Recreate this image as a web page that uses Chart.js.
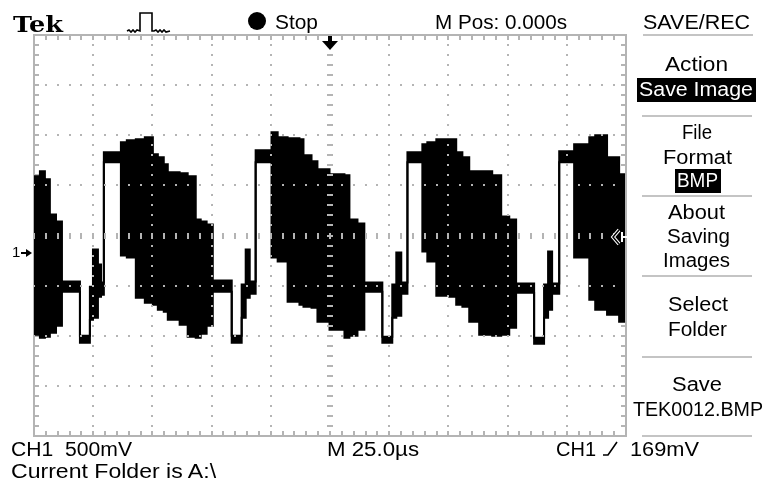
<!DOCTYPE html>
<html>
<head>
<meta charset="utf-8">
<script src="https://cdn.jsdelivr.net/npm/chart.js@4.4.1/dist/chart.umd.min.js"></script>
<style>
  html, body { margin: 0; padding: 0; background: #fff; }
  #screen { position: relative; width: 765px; height: 488px; overflow: hidden; background: #fff; }
  #screen canvas { position: absolute; left: 0; top: 0; }
  .lbl { position: absolute; font: 20px "Liberation Sans", Arial, sans-serif; line-height: 20px;
         white-space: pre; color: #000; transform-origin: 0 0; }
  .white { color: #fff; }
  .inv { position: absolute; background: #000; }
  .sep { position: absolute; height: 2px; background: #c4c4c4; }
  svg { position: absolute; overflow: visible; }
</style>
</head>
<body>
<div id="screen">
  <canvas id="scope" width="765" height="488"></canvas>

  <!-- top status row -->
  <span class="lbl" data-w="50" style="left:13px;top:12px;font:bold 23px 'DejaVu Serif',serif;line-height:23px">Tek</span>
  <svg style="left:125px;top:10px" width="48" height="26">
    <polyline points="2,21 4,20 6,22 8,20 10,22 12,20 15,21 15,3 27,3 27,21 29,21 31,20 33,22 35,20 37,22 39,20 41,22 45,21"
              fill="none" stroke="#000" stroke-width="1.6"/>
  </svg>
  <div class="inv" style="left:248px;top:12px;width:18px;height:18px;border-radius:50%"></div>
  <span class="lbl" data-w="43" style="left:275px;top:12px">Stop</span>
  <span class="lbl" data-w="132" style="left:435px;top:12px">M Pos: 0.000s</span>
  <span class="lbl" data-w="107" style="left:643px;top:12px">SAVE/REC</span>
  <div class="sep" style="left:643px;top:34px;width:110px"></div>

  <!-- trigger position / level markers -->
  <svg style="left:321px;top:36px" width="18" height="15">
    <rect x="7" y="0" width="4" height="6" fill="#000"/>
    <polygon points="1,5 17,5 9,14" fill="#000"/>
  </svg>
  <span class="lbl" style="left:12px;top:244px;font-size:15px;line-height:15px">1</span>
  <svg style="left:21px;top:248px" width="12" height="10">
    <line x1="0" y1="5" x2="6" y2="5" stroke="#000" stroke-width="2"/>
    <polygon points="5,1 11,5 5,9" fill="#000"/>
  </svg>
  <svg style="left:611px;top:229px" width="18" height="16">
    <polyline points="8,1 2,8 8,15" fill="none" stroke="#fff" stroke-width="3.5"/>
    <polyline points="8,1 2,8 8,15" fill="none" stroke="#000" stroke-width="1.5"/>
    <line x1="11" y1="3" x2="11" y2="13" stroke="#fff" stroke-width="2"/>
    <line x1="11" y1="8" x2="17" y2="8" stroke="#fff" stroke-width="2"/>
  </svg>

  <!-- side menu -->
  <span class="lbl" data-w="63" style="left:665px;top:54px">Action</span>
  <div class="inv" style="left:637px;top:78px;width:119px;height:24px"></div>
  <span class="lbl white" data-w="114" style="left:639px;top:79px">Save Image</span>
  <div class="sep" style="left:642px;top:115px;width:110px"></div>
  <span class="lbl" data-w="30" style="left:682px;top:122px">File</span>
  <span class="lbl" data-w="69" style="left:663px;top:147px">Format</span>
  <div class="inv" style="left:675px;top:169px;width:46px;height:24px"></div>
  <span class="lbl white" data-w="41" style="left:677px;top:170px">BMP</span>
  <div class="sep" style="left:642px;top:195px;width:110px"></div>
  <span class="lbl" data-w="57" style="left:668px;top:202px">About</span>
  <span class="lbl" data-w="63" style="left:667px;top:226px">Saving</span>
  <span class="lbl" data-w="67" style="left:663px;top:250px">Images</span>
  <div class="sep" style="left:642px;top:275px;width:110px"></div>
  <span class="lbl" data-w="60" style="left:668px;top:294px">Select</span>
  <span class="lbl" data-w="59" style="left:668px;top:319px">Folder</span>
  <div class="sep" style="left:642px;top:356px;width:110px"></div>
  <span class="lbl" data-w="50" style="left:672px;top:374px">Save</span>
  <span class="lbl" data-w="130" style="left:633px;top:399px">TEK0012.BMP</span>
  <div class="sep" style="left:642px;top:435px;width:110px"></div>

  <!-- bottom readouts -->
  <span class="lbl" data-w="121" style="left:11px;top:439px">CH1  500mV</span>
  <span class="lbl" data-w="92" style="left:327px;top:439px">M 25.0µs</span>
  <span class="lbl" data-w="40" style="left:556px;top:439px">CH1</span>
  <svg style="left:603px;top:441px" width="18" height="15">
    <polyline points="0,14 5,14 14,1" fill="none" stroke="#000" stroke-width="1.6"/>
  </svg>
  <span class="lbl" data-w="69" style="left:630px;top:439px">169mV</span>
  <span class="lbl" data-w="205" style="left:11px;top:461px">Current Folder is A:\</span>
</div>

<script>
// time in microseconds (25 us/div), levels in divisions from screen centre
// envelope is held constant between consecutive edges
const edges = [-125, -122.5, -120.4, -118.3, -115.7, -113.2, -105.6, -101.4, -100.1, -98.0,
  -96.7, -95.5, -88.3, -85.8, -82.0, -78.2, -74.8, -72.7, -70.2, -68.5,
  -63.5, -60.1, -56.7, -54.6, -52.1, -49.5, -41.5, -37.3, -35.6, -33.9,
  -31.4, -24.7, -22.1, -17.9, -12.9, -11.2, -7.8, -5.3, -0.2, 6.1,
  8.2, 11.6, 14.5, 22.1, 26.3, 28.0, 30.1, 32.7, 39.0, 41.1,
  44.9, 50.4, 53.3, 55.9, 58.8, 63.0, 68.5, 72.3, 75.7, 78.6,
  86.2, 90.4, 92.1, 93.8, 96.8, 103.1, 109.5, 112.0, 117.0, 122.1, 124.6];

const upper = [1.18, 1.28, 1.12, 0.42, 0.28, -0.92, -2.00, -1.02, -0.28, -0.58,
  -0.94, 1.66, 1.86, 1.90, 1.92, 1.96, 1.62, 1.56, 1.42, 1.26,
  1.24, 1.18, 0.32, 0.28, 0.22, -0.90, -2.00, -0.98, -0.28, -0.92,
  1.70, 2.06, 1.96, 1.94, 1.92, 1.60, 1.48, 1.32, 1.22, 1.20,
  0.32, 0.24, -0.94, -2.02, -0.98, -0.34, -0.94, 1.66, 1.82, 1.86,
  1.92, 1.92, 1.66, 1.56, 1.28, 1.28, 1.20, 0.38, 0.32, -0.96,
  -2.04, -0.98, -0.32, -0.96, 1.68, 1.82, 1.96, 2.00, 1.56, 1.22];

const lower = [-1.98, -2.04, -2.02, -1.94, -1.80, -1.12, -2.14, -1.68, -1.64, -1.22,
  -1.18, 1.46, -0.40, -0.44, -1.24, -1.34, -1.38, -1.48, -1.52, -1.68,
  -1.78, -2.02, -2.04, -1.96, -1.80, -1.12, -2.14, -1.64, -1.24, -1.16,
  1.46, -0.44, -0.52, -1.32, -1.38, -1.42, -1.44, -1.72, -1.88, -2.04,
  -2.00, -1.88, -1.12, -2.14, -1.64, -1.60, -1.16, 1.46, -0.32, -0.52,
  -1.20, -1.22, -1.38, -1.42, -1.72, -1.98, -2.00, -1.98, -1.84, -1.14,
  -2.16, -1.64, -1.48, -1.16, 1.46, -0.44, -1.28, -1.48, -1.58, -1.72];

const hiPts = [], loPts = [];
upper.forEach((v, i) => {
  hiPts.push({x: edges[i], y: v}, {x: edges[i + 1], y: v});
  loPts.push({x: edges[i], y: lower[i]}, {x: edges[i + 1], y: lower[i]});
});

const GRID = '#b4b4b4';
const MINOR_X = 5, MINOR_Y = 0.2;   // 1/5 division

function steps(min, max, step) {
  const out = [];
  const n = Math.round((max - min) / step);
  for (let i = 0; i <= n; i++) out.push(min + i * step);
  return out;
}

// solid frame with minor ticks along the edges (under the trace)
const frame = {
  id: 'frame',
  beforeDatasetsDraw(chart) {
    const {ctx, chartArea: a, scales: {x, y}} = chart;
    ctx.save();
    ctx.fillStyle = GRID;
    ctx.fillRect(a.left - 1, a.top - 1, a.right - a.left + 2, 2);
    ctx.fillRect(a.left - 1, a.bottom - 1, a.right - a.left + 2, 2);
    ctx.fillRect(a.left - 1, a.top - 1, 2, a.bottom - a.top + 2);
    ctx.fillRect(a.right - 1, a.top - 1, 2, a.bottom - a.top + 2);
    steps(x.min, x.max, MINOR_X).forEach(v => {
      const px = Math.round(x.getPixelForValue(v));
      ctx.fillRect(px - 1, a.top, 2, 5);
      ctx.fillRect(px - 1, a.bottom - 5, 2, 5);
    });
    steps(y.min, y.max, MINOR_Y).forEach(v => {
      const py = Math.round(y.getPixelForValue(v));
      ctx.fillRect(a.left, py - 1, 5, 2);
      ctx.fillRect(a.right - 5, py - 1, 5, 2);
    });
    ctx.restore();
  }
};

// dotted graticule + centre cross ticks, drawn over the trace like the scope does
const graticule = {
  id: 'graticule',
  afterDatasetsDraw(chart) {
    const {ctx, scales: {x, y}} = chart;
    const xs = x.ticks.map(t => t.value).filter(v => v > x.min && v < x.max);
    const ys = y.ticks.map(t => t.value).filter(v => v > y.min && v < y.max);
    const minorX = steps(x.min, x.max, MINOR_X);
    const minorY = steps(y.min, y.max, MINOR_Y);
    ctx.save();
    ctx.fillStyle = GRID;
    xs.forEach(xv => {
      const px = Math.round(x.getPixelForValue(xv));
      minorY.forEach(yv => {
        const py = Math.round(y.getPixelForValue(yv));
        if (xv === 0) ctx.fillRect(px - 3, py - 1, 6, 2);
        else ctx.fillRect(px - 1, py - 1, 2, 2);
      });
    });
    ys.forEach(yv => {
      const py = Math.round(y.getPixelForValue(yv));
      minorX.forEach(xv => {
        const px = Math.round(x.getPixelForValue(xv));
        if (yv === 0) ctx.fillRect(px - 1, py - 3, 2, 6);
        else ctx.fillRect(px - 1, py - 1, 2, 2);
      });
    });
    ctx.restore();
  }
};

new Chart(document.getElementById('scope').getContext('2d'), {
  type: 'line',
  data: {
    datasets: [{
      data: hiPts,
      borderColor: '#000',
      backgroundColor: '#000',
      borderWidth: 2,
      fill: '+1'
    }, {
      data: loPts,
      borderColor: '#000',
      borderWidth: 2,
      fill: false
    }]
  },
  options: {
    responsive: false,
    animation: false,
    devicePixelRatio: 1,
    layout: { padding: { left: 34, top: 35, right: 139, bottom: 52 } },
    elements: { point: { radius: 0 }, line: { tension: 0 } },
    plugins: { legend: { display: false }, tooltip: { enabled: false } },
    scales: {
      x: {
        type: 'linear', min: -125, max: 125,
        ticks: { display: false, stepSize: 25 },
        grid: { display: false, drawTicks: false },
        border: { display: false }
      },
      y: {
        type: 'linear', min: -4, max: 4,
        ticks: { display: false, stepSize: 1 },
        grid: { display: false, drawTicks: false },
        border: { display: false }
      }
    }
  },
  plugins: [frame, graticule]
});

// squeeze / stretch readout text to the scope font's widths
document.querySelectorAll('.lbl[data-w]').forEach(el => {
  const w = el.getBoundingClientRect().width;
  if (w > 0) el.style.transform = 'scaleX(' + (el.dataset.w / w).toFixed(3) + ')';
});
</script>
</body>
</html>
